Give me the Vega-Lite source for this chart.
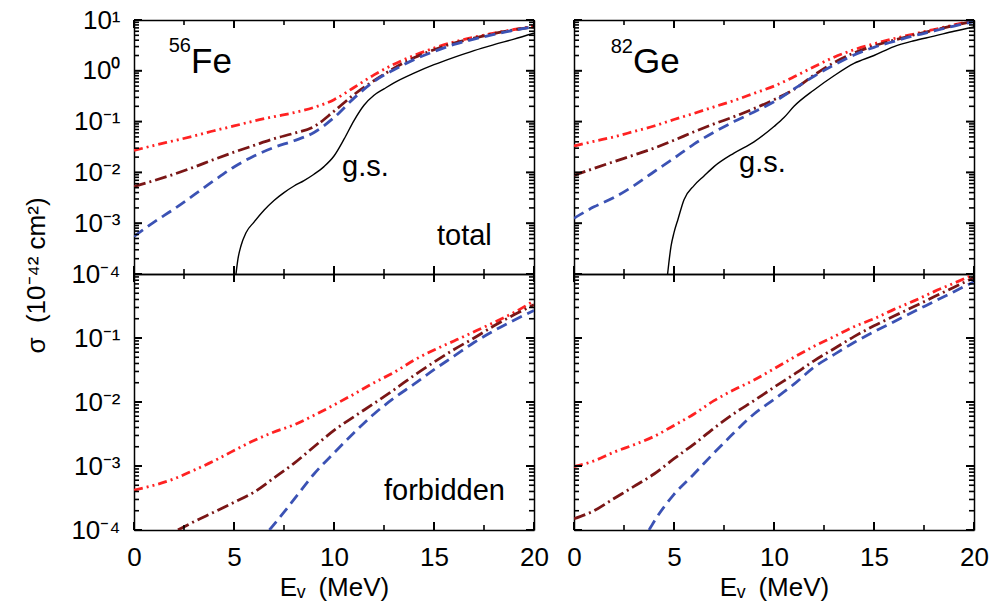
{
  "$schema": "https://vega.github.io/schema/vega-lite/v6.json",
  "background": "white",
  "padding": {"left": 23, "top": 7, "right": 5, "bottom": 5},
  "columns": 2,
  "spacing": {"row": 0, "column": 40},
  "bounds": "flush",
  "datasets": {
    "xMaj": [{"E":0},{"E":5},{"E":10},{"E":15},{"E":20}],
    "xMin": [{"E":2.5},{"E":7.5},{"E":12.5},{"E":17.5}],
    "yMajT": [{"v":0.0001},{"v":0.001},{"v":0.01},{"v":0.1},{"v":1},{"v":10}],
    "yMinT": [{"v":0.0002},{"v":0.0003},{"v":0.0004},{"v":0.0005},{"v":0.0006},{"v":0.0007},{"v":0.0008},{"v":0.0009},{"v":0.002},{"v":0.003},{"v":0.004},{"v":0.005},{"v":0.006},{"v":0.007},{"v":0.008},{"v":0.009},{"v":0.02},{"v":0.03},{"v":0.04},{"v":0.05},{"v":0.06},{"v":0.07},{"v":0.08},{"v":0.09},{"v":0.2},{"v":0.3},{"v":0.4},{"v":0.5},{"v":0.6},{"v":0.7},{"v":0.8},{"v":0.9},{"v":2},{"v":3},{"v":4},{"v":5},{"v":6},{"v":7},{"v":8},{"v":9}],
    "yMajB": [{"v":0.0001},{"v":0.001},{"v":0.01},{"v":0.1},{"v":1}],
    "yMinB": [{"v":0.0002},{"v":0.0003},{"v":0.0004},{"v":0.0005},{"v":0.0006},{"v":0.0007},{"v":0.0008},{"v":0.0009},{"v":0.002},{"v":0.003},{"v":0.004},{"v":0.005},{"v":0.006},{"v":0.007},{"v":0.008},{"v":0.009},{"v":0.02},{"v":0.03},{"v":0.04},{"v":0.05},{"v":0.06},{"v":0.07},{"v":0.08},{"v":0.09},{"v":0.2},{"v":0.3},{"v":0.4},{"v":0.5},{"v":0.6},{"v":0.7},{"v":0.8},{"v":0.9}],
    "feT_r": [{"E":0,"v":0.027},{"E":1,"v":0.034},{"E":2,"v":0.042},{"E":3,"v":0.052},{"E":4,"v":0.066},{"E":5,"v":0.082},{"E":6,"v":0.103},{"E":7,"v":0.125},{"E":8,"v":0.15},{"E":9,"v":0.19},{"E":10,"v":0.27},{"E":11,"v":0.47},{"E":12,"v":0.83},{"E":13,"v":1.35},{"E":14,"v":2.0},{"E":15,"v":2.8},{"E":16,"v":3.7},{"E":17,"v":4.6},{"E":18,"v":5.5},{"E":19,"v":6.5},{"E":20,"v":7.5}],
    "feT_d": [{"E":0,"v":0.0053},{"E":1,"v":0.0069},{"E":2,"v":0.0092},{"E":3,"v":0.0127},{"E":4,"v":0.018},{"E":5,"v":0.025},{"E":6,"v":0.034},{"E":7,"v":0.046},{"E":8,"v":0.059},{"E":9,"v":0.08},{"E":10,"v":0.16},{"E":11,"v":0.34},{"E":12,"v":0.64},{"E":13,"v":1.12},{"E":14,"v":1.8},{"E":15,"v":2.6},{"E":16,"v":3.5},{"E":17,"v":4.4},{"E":18,"v":5.4},{"E":19,"v":6.4},{"E":20,"v":7.3}],
    "feT_b": [{"E":0,"v":0.00055},{"E":1,"v":0.00105},{"E":2,"v":0.0019},{"E":3,"v":0.0036},{"E":4,"v":0.0069},{"E":5,"v":0.0128},{"E":6,"v":0.021},{"E":7,"v":0.031},{"E":8,"v":0.042},{"E":9,"v":0.061},{"E":10,"v":0.12},{"E":11,"v":0.29},{"E":12,"v":0.62},{"E":13,"v":1.05},{"E":14,"v":1.66},{"E":15,"v":2.4},{"E":16,"v":3.3},{"E":17,"v":4.2},{"E":18,"v":5.2},{"E":19,"v":6.3},{"E":20,"v":7.3}],
    "feT_g": [{"E":5.1,"v":0.0001},{"E":5.2,"v":0.0002},{"E":5.35,"v":0.00036},{"E":5.6,"v":0.00065},{"E":6,"v":0.00105},{"E":6.5,"v":0.0018},{"E":7,"v":0.0028},{"E":7.5,"v":0.004},{"E":8,"v":0.0054},{"E":8.5,"v":0.0069},{"E":9,"v":0.0092},{"E":9.5,"v":0.013},{"E":10,"v":0.021},{"E":10.5,"v":0.045},{"E":11,"v":0.105},{"E":11.5,"v":0.21},{"E":12,"v":0.33},{"E":12.5,"v":0.44},{"E":13,"v":0.58},{"E":14,"v":0.9},{"E":15,"v":1.32},{"E":16,"v":1.84},{"E":17,"v":2.5},{"E":18,"v":3.27},{"E":19,"v":4.2},{"E":20,"v":5.5}],
    "geT_r": [{"E":0,"v":0.033},{"E":1,"v":0.041},{"E":2,"v":0.05},{"E":3,"v":0.064},{"E":4,"v":0.082},{"E":5,"v":0.11},{"E":6,"v":0.145},{"E":7,"v":0.195},{"E":8,"v":0.26},{"E":9,"v":0.36},{"E":10,"v":0.5},{"E":11,"v":0.76},{"E":12,"v":1.2},{"E":13,"v":1.85},{"E":14,"v":2.6},{"E":15,"v":3.4},{"E":16,"v":4.3},{"E":17,"v":5.3},{"E":18,"v":6.5},{"E":19,"v":8.0},{"E":20,"v":9.8}],
    "geT_d": [{"E":0,"v":0.0087},{"E":1,"v":0.012},{"E":2,"v":0.0163},{"E":3,"v":0.022},{"E":4,"v":0.03},{"E":5,"v":0.043},{"E":6,"v":0.063},{"E":7,"v":0.09},{"E":8,"v":0.125},{"E":9,"v":0.18},{"E":10,"v":0.27},{"E":11,"v":0.43},{"E":12,"v":0.82},{"E":13,"v":1.45},{"E":14,"v":2.25},{"E":15,"v":3.1},{"E":16,"v":4.0},{"E":17,"v":5.1},{"E":18,"v":6.3},{"E":19,"v":7.8},{"E":20,"v":9.5}],
    "geT_b": [{"E":0,"v":0.00125},{"E":1,"v":0.0021},{"E":2,"v":0.0032},{"E":3,"v":0.0055},{"E":4,"v":0.0103},{"E":5,"v":0.019},{"E":6,"v":0.036},{"E":7,"v":0.062},{"E":8,"v":0.1},{"E":9,"v":0.155},{"E":10,"v":0.245},{"E":11,"v":0.44},{"E":12,"v":0.78},{"E":13,"v":1.3},{"E":14,"v":2.05},{"E":15,"v":2.9},{"E":16,"v":3.8},{"E":17,"v":4.9},{"E":18,"v":6.1},{"E":19,"v":7.6},{"E":20,"v":9.3}],
    "geT_g": [{"E":4.68,"v":0.0001},{"E":4.85,"v":0.00035},{"E":5.0,"v":0.00065},{"E":5.2,"v":0.0012},{"E":5.5,"v":0.0029},{"E":6,"v":0.0055},{"E":6.5,"v":0.0085},{"E":7,"v":0.013},{"E":8,"v":0.024},{"E":9,"v":0.04},{"E":10,"v":0.08},{"E":10.5,"v":0.12},{"E":11,"v":0.2},{"E":12,"v":0.42},{"E":13,"v":0.8},{"E":14,"v":1.4},{"E":15,"v":2.0},{"E":16,"v":3.0},{"E":17,"v":3.9},{"E":18,"v":4.8},{"E":19,"v":6.0},{"E":20,"v":7.3}],
    "feF_r": [{"E":0,"v":0.00042},{"E":1,"v":0.0005},{"E":2,"v":0.00063},{"E":3,"v":0.00086},{"E":4,"v":0.0012},{"E":5,"v":0.00175},{"E":6,"v":0.0025},{"E":7,"v":0.0034},{"E":8,"v":0.0044},{"E":9,"v":0.0062},{"E":10,"v":0.009},{"E":11,"v":0.0133},{"E":12,"v":0.02},{"E":13,"v":0.029},{"E":14,"v":0.045},{"E":15,"v":0.065},{"E":16,"v":0.09},{"E":17,"v":0.125},{"E":18,"v":0.175},{"E":19,"v":0.25},{"E":20,"v":0.38}],
    "feF_d": [{"E":2.2,"v":0.0001},{"E":3,"v":0.000135},{"E":4,"v":0.00019},{"E":5,"v":0.00027},{"E":6,"v":0.00039},{"E":7,"v":0.00065},{"E":8,"v":0.0011},{"E":9,"v":0.002},{"E":10,"v":0.0036},{"E":11,"v":0.0059},{"E":12,"v":0.0095},{"E":13,"v":0.0155},{"E":14,"v":0.026},{"E":15,"v":0.042},{"E":16,"v":0.066},{"E":17,"v":0.1},{"E":18,"v":0.155},{"E":19,"v":0.23},{"E":20,"v":0.33}],
    "feF_b": [{"E":6.77,"v":0.0001},{"E":7.5,"v":0.00019},{"E":8,"v":0.0003},{"E":9,"v":0.00075},{"E":10,"v":0.0016},{"E":11,"v":0.0033},{"E":12,"v":0.0065},{"E":13,"v":0.0115},{"E":14,"v":0.019},{"E":15,"v":0.032},{"E":16,"v":0.052},{"E":17,"v":0.085},{"E":18,"v":0.13},{"E":19,"v":0.19},{"E":20,"v":0.27}],
    "geF_r": [{"E":0,"v":0.00098},{"E":1,"v":0.0012},{"E":2,"v":0.00165},{"E":3,"v":0.00215},{"E":4,"v":0.0029},{"E":5,"v":0.0043},{"E":6,"v":0.0065},{"E":7,"v":0.0105},{"E":8,"v":0.0155},{"E":9,"v":0.022},{"E":10,"v":0.033},{"E":11,"v":0.05},{"E":12,"v":0.074},{"E":13,"v":0.105},{"E":14,"v":0.15},{"E":15,"v":0.2},{"E":16,"v":0.28},{"E":17,"v":0.38},{"E":18,"v":0.53},{"E":19,"v":0.72},{"E":20,"v":0.98}],
    "geF_d": [{"E":0,"v":0.00015},{"E":1,"v":0.0002},{"E":2,"v":0.00031},{"E":3,"v":0.00048},{"E":4,"v":0.00075},{"E":5,"v":0.0013},{"E":6,"v":0.0022},{"E":7,"v":0.0039},{"E":8,"v":0.0066},{"E":9,"v":0.0105},{"E":10,"v":0.017},{"E":11,"v":0.027},{"E":12,"v":0.044},{"E":13,"v":0.068},{"E":14,"v":0.105},{"E":15,"v":0.155},{"E":16,"v":0.22},{"E":17,"v":0.31},{"E":18,"v":0.44},{"E":19,"v":0.62},{"E":20,"v":0.88}],
    "geF_b": [{"E":3.75,"v":0.0001},{"E":4,"v":0.000135},{"E":5,"v":0.00036},{"E":6,"v":0.00075},{"E":7,"v":0.0016},{"E":8,"v":0.0033},{"E":9,"v":0.0065},{"E":10,"v":0.011},{"E":11,"v":0.019},{"E":12,"v":0.035},{"E":13,"v":0.055},{"E":14,"v":0.085},{"E":15,"v":0.125},{"E":16,"v":0.18},{"E":17,"v":0.26},{"E":18,"v":0.37},{"E":19,"v":0.53},{"E":20,"v":0.76}]
  },
  "concat": [
    {
      "width": 400, "height": 254,
      "resolve": {"axis": {"x": "independent", "y": "independent"}},
      "layer": [
        {"data": {"name": "feT_r"}, "mark": {"type": "line", "color": "#ff2222", "strokeWidth": 2.8, "strokeDash": [9,4,2,4,2,4], "interpolate": "monotone", "clip": true},
         "encoding": {
           "x": {"field": "E", "type": "quantitative", "scale": {"domain": [0,20], "nice": false}, "axis": {"orient": "bottom", "values": [0,5,10,15,20], "ticks": false, "labels": false, "title": null}},
           "y": {"field": "v", "type": "quantitative", "scale": {"type": "log", "domain": [0.0001,10], "nice": false}, "axis": {"orient": "left", "values": [0.0001,0.001,0.01,0.1,1,10], "ticks": false, "labelPadding": 14, "labelExpr": "round(log(datum.value)/LN10) == 1 ? '10¹' : round(log(datum.value)/LN10) == 0 ? '10⁰' : round(log(datum.value)/LN10) == -1 ? '10⁻¹' : round(log(datum.value)/LN10) == -2 ? '10⁻²' : round(log(datum.value)/LN10) == -3 ? '10⁻³' : '10⁻⁴'", "title": "σ\u00a0\u00a0(10⁻⁴² cm²)", "titleX": -98, "titleY": 255, "titleAngle": 270, "titleAlign": "center", "titleBaseline": "middle"}}
         }},
        {"data": {"name": "feT_d"}, "mark": {"type": "line", "color": "#7a1616", "strokeWidth": 2.8, "strokeDash": [12,4,2,4], "interpolate": "monotone", "clip": true},
         "encoding": {
           "x": {"field": "E", "type": "quantitative", "axis": {"orient": "top", "values": [0,5,10,15,20], "ticks": false, "labels": false, "title": null}},
           "y": {"field": "v", "type": "quantitative", "axis": {"orient": "right", "values": [0.0001,0.001,0.01,0.1,1,10], "ticks": false, "labels": false, "title": null}}
         }},
        {"data": {"name": "feT_b"}, "mark": {"type": "line", "color": "#3b52b4", "strokeWidth": 2.8, "strokeDash": [11,6], "interpolate": "monotone", "clip": true},
         "encoding": {"x": {"field": "E", "type": "quantitative", "axis": null}, "y": {"field": "v", "type": "quantitative", "axis": null}}},
        {"data": {"name": "feT_g"}, "mark": {"type": "line", "color": "black", "strokeWidth": 1.4, "interpolate": "monotone", "clip": true},
         "encoding": {"x": {"field": "E", "type": "quantitative", "axis": null}, "y": {"field": "v", "type": "quantitative", "axis": null}}},
        {"data": {"name": "yMajT"}, "mark": {"type": "rule", "color": "black", "strokeWidth": 2},
         "encoding": {"y": {"field": "v", "type": "quantitative", "axis": null}, "x": {"datum": 0, "type": "quantitative", "axis": null}, "x2": {"datum": 0.4}}},
        {"data": {"name": "yMajT"}, "mark": {"type": "rule", "color": "black", "strokeWidth": 2},
         "encoding": {"y": {"field": "v", "type": "quantitative", "axis": null}, "x": {"datum": 19.6, "type": "quantitative", "axis": null}, "x2": {"datum": 20}}},
        {"data": {"name": "yMinT"}, "mark": {"type": "rule", "color": "black", "strokeWidth": 1.6},
         "encoding": {"y": {"field": "v", "type": "quantitative", "axis": null}, "x": {"datum": 0, "type": "quantitative", "axis": null}, "x2": {"datum": 0.25}}},
        {"data": {"name": "yMinT"}, "mark": {"type": "rule", "color": "black", "strokeWidth": 1.6},
         "encoding": {"y": {"field": "v", "type": "quantitative", "axis": null}, "x": {"datum": 19.75, "type": "quantitative", "axis": null}, "x2": {"datum": 20}}},
        {"data": {"name": "xMaj"}, "mark": {"type": "rule", "color": "black", "strokeWidth": 2},
         "encoding": {"x": {"field": "E", "type": "quantitative", "axis": null}, "y": {"datum": 0.0001, "type": "quantitative", "axis": null}, "y2": {"datum": 0.0001437}}},
        {"data": {"name": "xMaj"}, "mark": {"type": "rule", "color": "black", "strokeWidth": 2},
         "encoding": {"x": {"field": "E", "type": "quantitative", "axis": null}, "y": {"datum": 6.96, "type": "quantitative", "axis": null}, "y2": {"datum": 10}}},
        {"data": {"name": "xMin"}, "mark": {"type": "rule", "color": "black", "strokeWidth": 1.6},
         "encoding": {"x": {"field": "E", "type": "quantitative", "axis": null}, "y": {"datum": 0.0001, "type": "quantitative", "axis": null}, "y2": {"datum": 0.0001254}}},
        {"data": {"name": "xMin"}, "mark": {"type": "rule", "color": "black", "strokeWidth": 1.6},
         "encoding": {"x": {"field": "E", "type": "quantitative", "axis": null}, "y": {"datum": 7.97, "type": "quantitative", "axis": null}, "y2": {"datum": 10}}},
        {"data": {"values": [{}]}, "mark": {"type": "text", "text": "56", "fontSize": 20, "align": "right", "baseline": "alphabetic", "font": "Liberation Sans", "color": "black"},
         "encoding": {"x": {"datum": 2.85, "type": "quantitative", "axis": null}, "y": {"datum": 2.3, "type": "quantitative", "axis": null}}},
        {"data": {"values": [{}]}, "mark": {"type": "text", "text": "Fe", "fontSize": 35, "align": "left", "baseline": "alphabetic", "font": "Liberation Sans", "color": "black"},
         "encoding": {"x": {"datum": 2.85, "type": "quantitative", "axis": null}, "y": {"datum": 0.9, "type": "quantitative", "axis": null}}},
        {"data": {"values": [{}]}, "mark": {"type": "text", "text": "g.s.", "fontSize": 29, "align": "left", "baseline": "alphabetic", "font": "Liberation Sans", "color": "black"},
         "encoding": {"x": {"datum": 10.4, "type": "quantitative", "axis": null}, "y": {"datum": 0.0085, "type": "quantitative", "axis": null}}},
        {"data": {"values": [{}]}, "mark": {"type": "text", "text": "total", "fontSize": 29, "align": "left", "baseline": "alphabetic", "font": "Liberation Sans", "color": "black"},
         "encoding": {"x": {"datum": 15.15, "type": "quantitative", "axis": null}, "y": {"datum": 0.00038, "type": "quantitative", "axis": null}}}
      ]
    },
    {
      "width": 400, "height": 254,
      "resolve": {"axis": {"x": "independent", "y": "independent"}},
      "layer": [
        {"data": {"name": "geT_r"}, "mark": {"type": "line", "color": "#ff2222", "strokeWidth": 2.8, "strokeDash": [9,4,2,4,2,4], "interpolate": "monotone", "clip": true},
         "encoding": {
           "x": {"field": "E", "type": "quantitative", "scale": {"domain": [0,20], "nice": false}, "axis": {"orient": "bottom", "values": [0,5,10,15,20], "ticks": false, "labels": false, "title": null}},
           "y": {"field": "v", "type": "quantitative", "scale": {"type": "log", "domain": [0.0001,10], "nice": false}, "axis": {"orient": "left", "values": [0.0001,0.001,0.01,0.1,1,10], "ticks": false, "labels": false, "title": null}}
         }},
        {"data": {"name": "geT_d"}, "mark": {"type": "line", "color": "#7a1616", "strokeWidth": 2.8, "strokeDash": [12,4,2,4], "interpolate": "monotone", "clip": true},
         "encoding": {
           "x": {"field": "E", "type": "quantitative", "axis": {"orient": "top", "values": [0,5,10,15,20], "ticks": false, "labels": false, "title": null}},
           "y": {"field": "v", "type": "quantitative", "axis": {"orient": "right", "values": [0.0001,0.001,0.01,0.1,1,10], "ticks": false, "labels": false, "title": null}}
         }},
        {"data": {"name": "geT_b"}, "mark": {"type": "line", "color": "#3b52b4", "strokeWidth": 2.8, "strokeDash": [11,6], "interpolate": "monotone", "clip": true},
         "encoding": {"x": {"field": "E", "type": "quantitative", "axis": null}, "y": {"field": "v", "type": "quantitative", "axis": null}}},
        {"data": {"name": "geT_g"}, "mark": {"type": "line", "color": "black", "strokeWidth": 1.4, "interpolate": "monotone", "clip": true},
         "encoding": {"x": {"field": "E", "type": "quantitative", "axis": null}, "y": {"field": "v", "type": "quantitative", "axis": null}}},
        {"data": {"name": "yMajT"}, "mark": {"type": "rule", "color": "black", "strokeWidth": 2},
         "encoding": {"y": {"field": "v", "type": "quantitative", "axis": null}, "x": {"datum": 0, "type": "quantitative", "axis": null}, "x2": {"datum": 0.4}}},
        {"data": {"name": "yMajT"}, "mark": {"type": "rule", "color": "black", "strokeWidth": 2},
         "encoding": {"y": {"field": "v", "type": "quantitative", "axis": null}, "x": {"datum": 19.6, "type": "quantitative", "axis": null}, "x2": {"datum": 20}}},
        {"data": {"name": "yMinT"}, "mark": {"type": "rule", "color": "black", "strokeWidth": 1.6},
         "encoding": {"y": {"field": "v", "type": "quantitative", "axis": null}, "x": {"datum": 0, "type": "quantitative", "axis": null}, "x2": {"datum": 0.25}}},
        {"data": {"name": "yMinT"}, "mark": {"type": "rule", "color": "black", "strokeWidth": 1.6},
         "encoding": {"y": {"field": "v", "type": "quantitative", "axis": null}, "x": {"datum": 19.75, "type": "quantitative", "axis": null}, "x2": {"datum": 20}}},
        {"data": {"name": "xMaj"}, "mark": {"type": "rule", "color": "black", "strokeWidth": 2},
         "encoding": {"x": {"field": "E", "type": "quantitative", "axis": null}, "y": {"datum": 0.0001, "type": "quantitative", "axis": null}, "y2": {"datum": 0.0001437}}},
        {"data": {"name": "xMaj"}, "mark": {"type": "rule", "color": "black", "strokeWidth": 2},
         "encoding": {"x": {"field": "E", "type": "quantitative", "axis": null}, "y": {"datum": 6.96, "type": "quantitative", "axis": null}, "y2": {"datum": 10}}},
        {"data": {"name": "xMin"}, "mark": {"type": "rule", "color": "black", "strokeWidth": 1.6},
         "encoding": {"x": {"field": "E", "type": "quantitative", "axis": null}, "y": {"datum": 0.0001, "type": "quantitative", "axis": null}, "y2": {"datum": 0.0001254}}},
        {"data": {"name": "xMin"}, "mark": {"type": "rule", "color": "black", "strokeWidth": 1.6},
         "encoding": {"x": {"field": "E", "type": "quantitative", "axis": null}, "y": {"datum": 7.97, "type": "quantitative", "axis": null}, "y2": {"datum": 10}}},
        {"data": {"values": [{}]}, "mark": {"type": "text", "text": "82", "fontSize": 20, "align": "right", "baseline": "alphabetic", "font": "Liberation Sans", "color": "black"},
         "encoding": {"x": {"datum": 2.95, "type": "quantitative", "axis": null}, "y": {"datum": 2.24, "type": "quantitative", "axis": null}}},
        {"data": {"values": [{}]}, "mark": {"type": "text", "text": "Ge", "fontSize": 35, "align": "left", "baseline": "alphabetic", "font": "Liberation Sans", "color": "black"},
         "encoding": {"x": {"datum": 2.95, "type": "quantitative", "axis": null}, "y": {"datum": 0.9, "type": "quantitative", "axis": null}}},
        {"data": {"values": [{}]}, "mark": {"type": "text", "text": "g.s.", "fontSize": 29, "align": "left", "baseline": "alphabetic", "font": "Liberation Sans", "color": "black"},
         "encoding": {"x": {"datum": 8.25, "type": "quantitative", "axis": null}, "y": {"datum": 0.0103, "type": "quantitative", "axis": null}}}
      ]
    },
    {
      "width": 400, "height": 256,
      "resolve": {"axis": {"x": "independent", "y": "independent"}},
      "layer": [
        {"data": {"name": "feF_r"}, "mark": {"type": "line", "color": "#ff2222", "strokeWidth": 2.8, "strokeDash": [9,4,2,4,2,4], "interpolate": "monotone", "clip": true},
         "encoding": {
           "x": {"field": "E", "type": "quantitative", "scale": {"domain": [0,20], "nice": false}, "axis": {"orient": "bottom", "values": [0,5,10,15,20], "ticks": false, "labelPadding": 14, "title": "Eᵥ\u2002(MeV)", "titleX": 200, "titleY": 65, "titleAlign": "center", "titleBaseline": "alphabetic"}},
           "y": {"field": "v", "type": "quantitative", "scale": {"type": "log", "domain": [0.0001,1], "nice": false}, "axis": {"orient": "left", "values": [0.0001,0.001,0.01,0.1], "ticks": false, "labelPadding": 14, "labelExpr": "round(log(datum.value)/LN10) == -1 ? '10⁻¹' : round(log(datum.value)/LN10) == -2 ? '10⁻²' : round(log(datum.value)/LN10) == -3 ? '10⁻³' : '10⁻⁴'", "title": null}}
         }},
        {"data": {"name": "feF_d"}, "mark": {"type": "line", "color": "#7a1616", "strokeWidth": 2.8, "strokeDash": [12,4,2,4], "interpolate": "monotone", "clip": true},
         "encoding": {
           "x": {"field": "E", "type": "quantitative", "axis": {"orient": "top", "values": [0,5,10,15,20], "ticks": false, "labels": false, "title": null}},
           "y": {"field": "v", "type": "quantitative", "axis": {"orient": "right", "values": [0.0001,0.001,0.01,0.1,1], "ticks": false, "labels": false, "title": null}}
         }},
        {"data": {"name": "feF_b"}, "mark": {"type": "line", "color": "#3b52b4", "strokeWidth": 2.8, "strokeDash": [11,6], "interpolate": "monotone", "clip": true},
         "encoding": {"x": {"field": "E", "type": "quantitative", "axis": null}, "y": {"field": "v", "type": "quantitative", "axis": null}}},
        {"data": {"name": "yMajB"}, "mark": {"type": "rule", "color": "black", "strokeWidth": 2},
         "encoding": {"y": {"field": "v", "type": "quantitative", "axis": null}, "x": {"datum": 0, "type": "quantitative", "axis": null}, "x2": {"datum": 0.4}}},
        {"data": {"name": "yMajB"}, "mark": {"type": "rule", "color": "black", "strokeWidth": 2},
         "encoding": {"y": {"field": "v", "type": "quantitative", "axis": null}, "x": {"datum": 19.6, "type": "quantitative", "axis": null}, "x2": {"datum": 20}}},
        {"data": {"name": "yMinB"}, "mark": {"type": "rule", "color": "black", "strokeWidth": 1.6},
         "encoding": {"y": {"field": "v", "type": "quantitative", "axis": null}, "x": {"datum": 0, "type": "quantitative", "axis": null}, "x2": {"datum": 0.25}}},
        {"data": {"name": "yMinB"}, "mark": {"type": "rule", "color": "black", "strokeWidth": 1.6},
         "encoding": {"y": {"field": "v", "type": "quantitative", "axis": null}, "x": {"datum": 19.75, "type": "quantitative", "axis": null}, "x2": {"datum": 20}}},
        {"data": {"name": "xMaj"}, "mark": {"type": "rule", "color": "black", "strokeWidth": 2},
         "encoding": {"x": {"field": "E", "type": "quantitative", "axis": null}, "y": {"datum": 0.0001, "type": "quantitative", "axis": null}, "y2": {"datum": 0.0001334}}},
        {"data": {"name": "xMaj"}, "mark": {"type": "rule", "color": "black", "strokeWidth": 2},
         "encoding": {"x": {"field": "E", "type": "quantitative", "axis": null}, "y": {"datum": 0.75, "type": "quantitative", "axis": null}, "y2": {"datum": 1}}},
        {"data": {"name": "xMin"}, "mark": {"type": "rule", "color": "black", "strokeWidth": 1.6},
         "encoding": {"x": {"field": "E", "type": "quantitative", "axis": null}, "y": {"datum": 0.0001, "type": "quantitative", "axis": null}, "y2": {"datum": 0.0001197}}},
        {"data": {"name": "xMin"}, "mark": {"type": "rule", "color": "black", "strokeWidth": 1.6},
         "encoding": {"x": {"field": "E", "type": "quantitative", "axis": null}, "y": {"datum": 0.835, "type": "quantitative", "axis": null}, "y2": {"datum": 1}}},
        {"data": {"values": [{}]}, "mark": {"type": "text", "text": "forbidden", "fontSize": 29, "align": "left", "baseline": "alphabetic", "font": "Liberation Sans", "color": "black"},
         "encoding": {"x": {"datum": 12.5, "type": "quantitative", "axis": null}, "y": {"datum": 0.000295, "type": "quantitative", "axis": null}}}
      ]
    },
    {
      "width": 400, "height": 256,
      "resolve": {"axis": {"x": "independent", "y": "independent"}},
      "layer": [
        {"data": {"name": "geF_r"}, "mark": {"type": "line", "color": "#ff2222", "strokeWidth": 2.8, "strokeDash": [9,4,2,4,2,4], "interpolate": "monotone", "clip": true},
         "encoding": {
           "x": {"field": "E", "type": "quantitative", "scale": {"domain": [0,20], "nice": false}, "axis": {"orient": "bottom", "values": [0,5,10,15,20], "ticks": false, "labelPadding": 14, "title": "Eᵥ\u2002(MeV)", "titleX": 200, "titleY": 65, "titleAlign": "center", "titleBaseline": "alphabetic"}},
           "y": {"field": "v", "type": "quantitative", "scale": {"type": "log", "domain": [0.0001,1], "nice": false}, "axis": {"orient": "left", "values": [0.0001,0.001,0.01,0.1,1], "ticks": false, "labels": false, "title": null}}
         }},
        {"data": {"name": "geF_d"}, "mark": {"type": "line", "color": "#7a1616", "strokeWidth": 2.8, "strokeDash": [12,4,2,4], "interpolate": "monotone", "clip": true},
         "encoding": {
           "x": {"field": "E", "type": "quantitative", "axis": {"orient": "top", "values": [0,5,10,15,20], "ticks": false, "labels": false, "title": null}},
           "y": {"field": "v", "type": "quantitative", "axis": {"orient": "right", "values": [0.0001,0.001,0.01,0.1,1], "ticks": false, "labels": false, "title": null}}
         }},
        {"data": {"name": "geF_b"}, "mark": {"type": "line", "color": "#3b52b4", "strokeWidth": 2.8, "strokeDash": [11,6], "interpolate": "monotone", "clip": true},
         "encoding": {"x": {"field": "E", "type": "quantitative", "axis": null}, "y": {"field": "v", "type": "quantitative", "axis": null}}},
        {"data": {"name": "yMajB"}, "mark": {"type": "rule", "color": "black", "strokeWidth": 2},
         "encoding": {"y": {"field": "v", "type": "quantitative", "axis": null}, "x": {"datum": 0, "type": "quantitative", "axis": null}, "x2": {"datum": 0.4}}},
        {"data": {"name": "yMajB"}, "mark": {"type": "rule", "color": "black", "strokeWidth": 2},
         "encoding": {"y": {"field": "v", "type": "quantitative", "axis": null}, "x": {"datum": 19.6, "type": "quantitative", "axis": null}, "x2": {"datum": 20}}},
        {"data": {"name": "yMinB"}, "mark": {"type": "rule", "color": "black", "strokeWidth": 1.6},
         "encoding": {"y": {"field": "v", "type": "quantitative", "axis": null}, "x": {"datum": 0, "type": "quantitative", "axis": null}, "x2": {"datum": 0.25}}},
        {"data": {"name": "yMinB"}, "mark": {"type": "rule", "color": "black", "strokeWidth": 1.6},
         "encoding": {"y": {"field": "v", "type": "quantitative", "axis": null}, "x": {"datum": 19.75, "type": "quantitative", "axis": null}, "x2": {"datum": 20}}},
        {"data": {"name": "xMaj"}, "mark": {"type": "rule", "color": "black", "strokeWidth": 2},
         "encoding": {"x": {"field": "E", "type": "quantitative", "axis": null}, "y": {"datum": 0.0001, "type": "quantitative", "axis": null}, "y2": {"datum": 0.0001334}}},
        {"data": {"name": "xMaj"}, "mark": {"type": "rule", "color": "black", "strokeWidth": 2},
         "encoding": {"x": {"field": "E", "type": "quantitative", "axis": null}, "y": {"datum": 0.75, "type": "quantitative", "axis": null}, "y2": {"datum": 1}}},
        {"data": {"name": "xMin"}, "mark": {"type": "rule", "color": "black", "strokeWidth": 1.6},
         "encoding": {"x": {"field": "E", "type": "quantitative", "axis": null}, "y": {"datum": 0.0001, "type": "quantitative", "axis": null}, "y2": {"datum": 0.0001197}}},
        {"data": {"name": "xMin"}, "mark": {"type": "rule", "color": "black", "strokeWidth": 1.6},
         "encoding": {"x": {"field": "E", "type": "quantitative", "axis": null}, "y": {"datum": 0.835, "type": "quantitative", "axis": null}, "y2": {"datum": 1}}}
      ]
    }
  ],
  "config": {
    "view": {"stroke": null},
    "font": "Liberation Sans",
    "axis": {
      "domainColor": "black", "domainWidth": 1.5, "grid": false,
      "labelColor": "black", "labelFont": "Liberation Sans", "labelFontSize": 26,
      "titleColor": "black", "titleFont": "Liberation Sans", "titleFontSize": 26, "titleFontWeight": "normal",
      "labelFlush": false, "labelOverlap": false
    }
  }
}
